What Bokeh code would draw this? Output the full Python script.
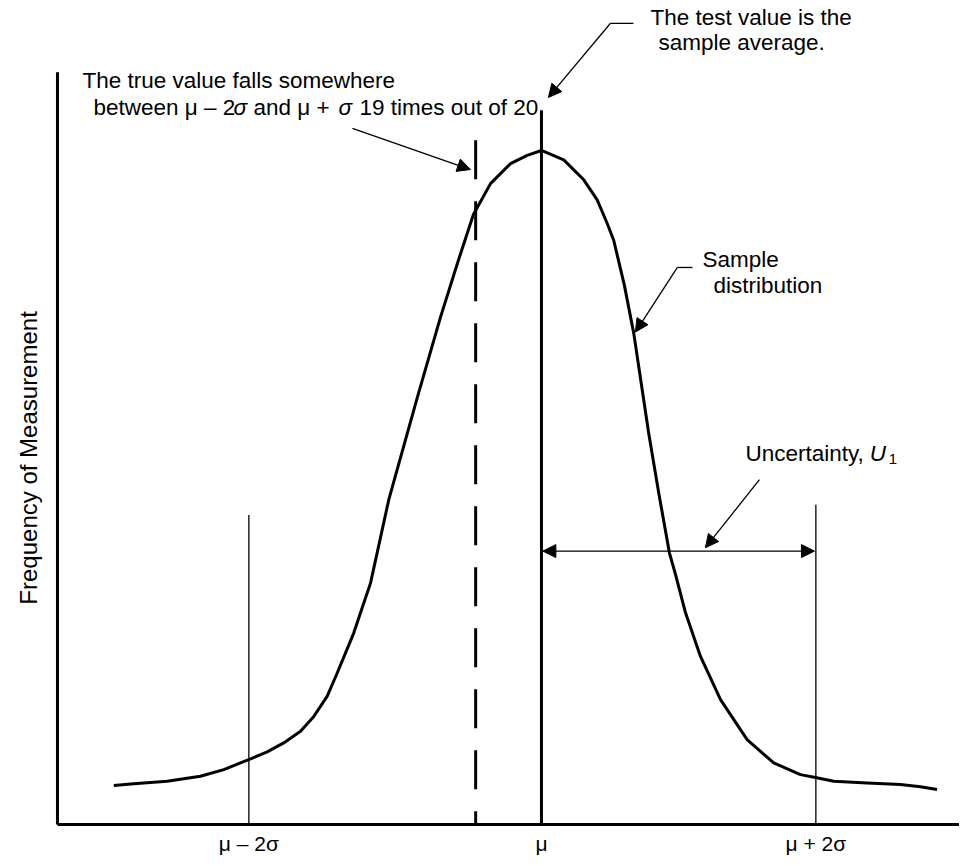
import math
from bokeh.plotting import figure
from bokeh.models import Range1d, FixedTicker, Arrow, NormalHead, ColumnDataSource
from bokeh.core.properties import value
from bokeh.embed import file_html
from bokeh.resources import INLINE

# ---------------- data (x in sigma units, mu = 0; y = relative frequency) -------------
curve_x = [-3.055, -2.912, -2.674, -2.436, -2.269, -2.091, -1.959, -1.841, -1.721, -1.626,
           -1.531, -1.459, -1.400, -1.341, -1.281, -1.221, -1.091, -0.886, -0.721, -0.600,
           -0.486, -0.364, -0.221, -0.102, 0.0, 0.159, 0.302, 0.398, 0.469, 0.516,
           0.592, 0.659, 0.695, 0.766, 0.838, 0.914, 0.957, 1.029, 1.136, 1.279,
           1.469, 1.659, 1.850, 1.957, 2.088, 2.326, 2.564, 2.707, 2.826]
curve_y = [0.0573, 0.0598, 0.0636, 0.0709, 0.0808, 0.0955, 0.1068, 0.1200, 0.1370, 0.1590,
           0.1884, 0.2228, 0.2521, 0.2815, 0.3182, 0.3549, 0.4772, 0.6285, 0.7460, 0.8253,
           0.8968, 0.9423, 0.9717, 0.9838, 0.991, 0.9772, 0.9479, 0.9185, 0.8840, 0.8590,
           0.7930, 0.7225, 0.6730, 0.5752, 0.4871, 0.3994, 0.3680, 0.3113, 0.2471, 0.1836,
           0.1248, 0.0906, 0.0734, 0.0690, 0.0636, 0.0612, 0.0587, 0.0554, 0.0514]

tick_pos = [-2.09, 0.0, 1.96]
tick_labels = ["μ – 2σ", "μ", "μ + 2σ"]

mu = 0.0
mu_line_top = 1.050
lower_2s = -2.09
lower_2s_top = 0.455
upper_2s = 1.96
upper_2s_top = 0.470
true_value_x = -0.47
true_value_top = 1.006
uncertainty_y = 0.402
axis_top = 1.106
axis_left = -3.457

y_label = "Frequency of Measurement"

FONT = "Liberation Sans"
X_LO, X_HI = -3.864, 2.986

p = figure(width=959, height=857, output_backend="svg", toolbar_location=None,
           x_range=Range1d(X_LO, X_HI), y_range=Range1d(-0.0029, 1.2115),
           y_axis_location=None,
           min_border_left=0, min_border_right=0, min_border_top=0,
           min_border_bottom=30)
p.outline_line_color = None
p.xgrid.visible = False
p.ygrid.visible = False
p.background_fill_color = "white"

# x axis: tick labels only
xa = p.xaxis[0]
xa.ticker = FixedTicker(ticks=tick_pos)
xa.major_label_overrides = {t: l for t, l in zip(tick_pos, tick_labels)}
xa.axis_line_color = None
xa.major_tick_line_color = None
xa.minor_tick_line_color = None
xa.major_tick_out = 0
xa.major_tick_in = 0
xa.major_label_standoff = 5
xa.major_label_text_font = FONT
xa.major_label_text_font_size = "21px"
xa.major_label_text_color = "black"

# axis lines
p.line([axis_left, axis_left], [axis_top, 0.0], line_color="black", line_width=3)
p.line([axis_left, X_HI], [0.0, 0.0], line_color="black", line_width=3)

# y axis title
p.text(x=[-3.664], y=[0.539], text=[y_label], angle=math.pi / 2,
       text_font=value(FONT), text_font_size=value("24px"),
       text_align="center", text_baseline="middle", text_color="black")

# vertical reference lines
p.line([lower_2s, lower_2s], [0.0, lower_2s_top], line_color="black", line_width=1.3)
p.line([upper_2s, upper_2s], [0.0, upper_2s_top], line_color="black", line_width=1.3)
p.line([mu, mu], [0.0, mu_line_top], line_color="black", line_width=3)
p.line([true_value_x, true_value_x], [true_value_top, 0.0], line_color="black",
       line_width=3, line_dash="39 22")

# distribution curve
p.line(curve_x, curve_y, line_color="black", line_width=3, line_join="round")

# leader segments
p.line([0.493, 0.657], [1.178, 1.178], line_color="black", line_width=1.3)
p.line([0.971, 1.079], [0.819, 0.819], line_color="black", line_width=1.3)

def head():
    return NormalHead(size=13, fill_color="black", line_color="black", line_width=1)

arrow_specs = [
    (-1.35, 1.0235, -0.507, 0.963),
    (0.493, 1.178, 0.05, 1.069),
    (0.971, 0.819, 0.671, 0.724),
    (1.557, 0.507, 1.171, 0.407),
]
for xs, ys, xe, ye in arrow_specs:
    p.add_layout(Arrow(end=head(), x_start=xs, y_start=ys, x_end=xe, y_end=ye,
                       line_color="black", line_width=1.3))

# uncertainty double arrow
p.add_layout(Arrow(start=head(), end=head(), x_start=mu + 0.01, y_start=uncertainty_y,
                   x_end=upper_2s - 0.01, y_end=uncertainty_y,
                   line_color="black", line_width=1.3))

# texts
normal = ColumnDataSource(dict(
    x=[-3.279, -3.2, -2.057, -1.30, 0.779, 0.836, 1.15, 1.229, 1.457],
    y=[1.094, 1.054, 1.054, 1.054, 1.186, 1.150, 0.830, 0.793, 0.546],
    text=["The true value falls somewhere", "between μ – 2", "and μ +",
          "19 times out of 20.", "The test value is the", "sample average.",
          "Sample", "distribution", "Uncertainty,"],
))
p.text(x="x", y="y", text="text", source=normal, text_font=value(FONT),
       text_font_size=value("22.5px"), text_baseline="middle", text_align="left",
       text_color="black")

italic = ColumnDataSource(dict(
    x=[-2.2, -1.45, 2.345],
    y=[1.054, 1.054, 0.546],
    text=["σ", "σ", "U"],
))
p.text(x="x", y="y", text="text", source=italic, text_font=value(FONT),
       text_font_size=value("22.5px"), text_font_style="italic",
       text_baseline="middle", text_align="left", text_color="black")

p.text(x=[2.48], y=[0.537], text=["1"], text_font=value(FONT),
       text_font_size=value("15px"), text_baseline="middle", text_align="left",
       text_color="black")

open("out.html", "w").write(file_html(p, INLINE))
